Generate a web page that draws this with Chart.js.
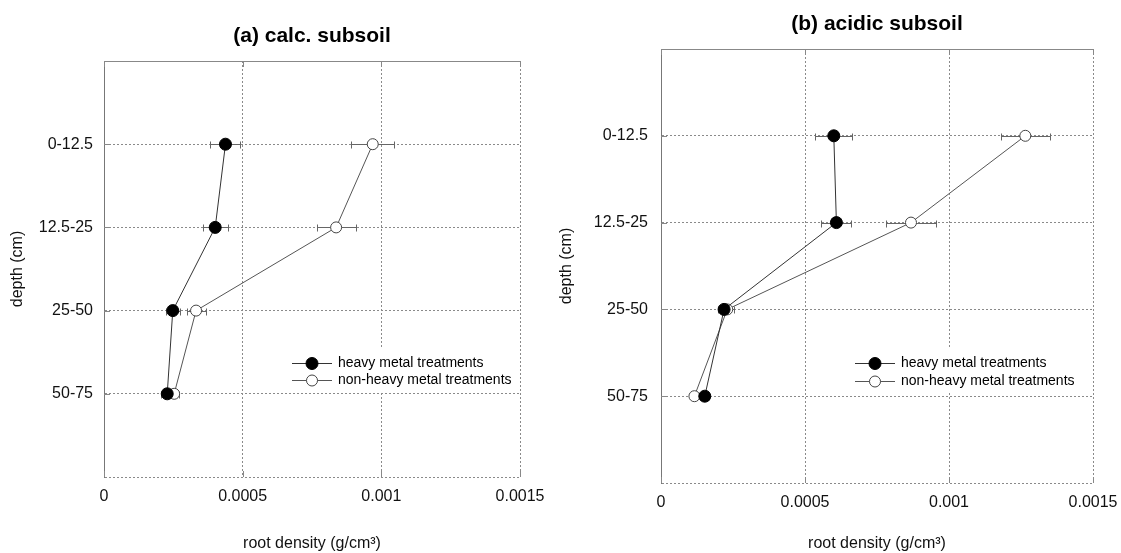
<!DOCTYPE html>
<html>
<head>
<meta charset="utf-8">
<title>Root density by depth</title>
<script src="https://cdn.jsdelivr.net/npm/chart.js@4.4.1/dist/chart.umd.min.js"></script>
<style>
  html, body { margin: 0; padding: 0; background: #fff; }
  #wrap { position: relative; width: 1121px; height: 553px; overflow: hidden; }
  canvas { position: absolute; top: 0; }
  #calcChart { left: 0; }
  #acidChart { left: 548px; }
</style>
</head>
<body>
<div id="wrap">
  <canvas id="calcChart" width="548" height="553"></canvas>
  <canvas id="acidChart" width="573" height="553"></canvas>
</div>
<script>
// depth classes (cm), top to bottom
const depthLabels = ['0-12.5', '12.5-25', '25-50', '50-75'];
const xTickLabels = ['0', '0.0005', '0.001', '0.0015'];
const seriesNames = ['heavy metal treatments', 'non-heavy metal treatments'];

// (a) calcareous subsoil, root density g/cm3 and +/- error
const calcHeavy = [0.000438, 0.000401, 0.000248, 0.000228];
const calcHeavyErr = [0.000054, 0.000045, 0.000026, 0.000022];
const calcNonHeavy = [0.000969, 0.000837, 0.000332, 0.000253];
const calcNonHeavyErr = [0.000078, 0.00007, 0.000034, 0.000017];

// (b) acidic subsoil
const acidHeavy = [0.0006, 0.000609, 0.000219, 0.000152];
const acidHeavyErr = [0.000064, 0.000052, 0.000022, 0.000015];
const acidNonHeavy = [0.001265, 0.000868, 0.00023, 0.000116];
const acidNonHeavyErr = [0.000084, 0.000087, 0.000022, 0.000008];

const FONT = "'Liberation Sans', Arial, sans-serif";

// title centred over the plot area
const panelTitle = {
  id: 'panelTitle',
  afterDraw(chart, args, opts) {
    const { ctx, chartArea } = chart;
    ctx.save();
    ctx.font = `bold ${opts.size}px ${FONT}`;
    ctx.fillStyle = '#000';
    ctx.textAlign = 'center';
    ctx.textBaseline = 'middle';
    ctx.fillText(opts.text, (chartArea.left + chartArea.right) / 2, opts.y);
    ctx.restore();
  }
};

// solid top edge plus short inward tick marks
const frame = {
  id: 'frame',
  beforeDatasetsDraw(chart) {
    const { ctx, chartArea: a, scales: { x, y } } = chart;
    ctx.save();
    ctx.strokeStyle = '#888';
    ctx.lineWidth = 1;
    ctx.beginPath();
    ctx.moveTo(a.left, a.top + 0.5);
    ctx.lineTo(a.right, a.top + 0.5);
    y.ticks.forEach(t => {
      if (t.value <= 0 || t.value >= 5) return;
      const py = Math.round(y.getPixelForValue(t.value)) + 0.5;
      ctx.moveTo(a.left, py);
      ctx.lineTo(a.left + 6, py);
    });
    x.ticks.forEach(t => {
      const px = Math.round(x.getPixelForValue(t.value)) + 0.5;
      ctx.moveTo(px, a.top);
      ctx.lineTo(px, a.top + 6);
      ctx.moveTo(px, a.bottom);
      ctx.lineTo(px, a.bottom - 6);
    });
    ctx.stroke();
    ctx.restore();
  }
};

// horizontal error bars with end caps
const errorBars = {
  id: 'errorBars',
  beforeDatasetsDraw(chart) {
    const { ctx, scales: { x, y } } = chart;
    ctx.save();
    ctx.strokeStyle = '#666';
    ctx.lineWidth = 1;
    chart.data.datasets.forEach(ds => {
      (ds.errors || []).forEach((e, i) => {
        const p = ds.data[i];
        const py = Math.round(y.getPixelForValue(p.y)) + 0.5;
        const x0 = Math.round(x.getPixelForValue(p.x - e)) + 0.5;
        const x1 = Math.round(x.getPixelForValue(p.x + e)) + 0.5;
        ctx.beginPath();
        ctx.moveTo(x0, py);
        ctx.lineTo(x1, py);
        ctx.moveTo(x0, py - 3);
        ctx.lineTo(x0, py + 4);
        ctx.moveTo(x1, py - 3);
        ctx.lineTo(x1, py + 4);
        ctx.stroke();
      });
    });
    ctx.restore();
  }
};

// legend drawn inside the plot area on a white patch
const insetLegend = {
  id: 'insetLegend',
  afterDatasetsDraw(chart, args, opts) {
    const { ctx, chartArea: a } = chart;
    const sets = chart.data.datasets;
    const x0 = a.left + opts.x;
    const y0 = a.top + opts.y;
    const lineLen = 40;
    const textX = x0 + lineLen + 6;
    ctx.save();
    ctx.font = `14px ${FONT}`;
    const widest = Math.max(...sets.map(ds => ctx.measureText(ds.label).width));
    ctx.fillStyle = '#fff';
    ctx.fillRect(x0 - 4, y0 - 15, textX - x0 + widest + 8, opts.gap * (sets.length - 1) + 27);
    sets.forEach((ds, i) => {
      const yy = Math.round(y0 + i * opts.gap) + 0.5;
      ctx.strokeStyle = ds.borderColor;
      ctx.lineWidth = 1;
      ctx.beginPath();
      ctx.moveTo(x0, yy);
      ctx.lineTo(x0 + lineLen, yy);
      ctx.stroke();
      ctx.beginPath();
      ctx.arc(x0 + lineLen / 2, yy, ds.pointRadius, 0, Math.PI * 2);
      ctx.fillStyle = ds.pointBackgroundColor;
      ctx.fill();
      ctx.strokeStyle = ds.pointBorderColor;
      ctx.stroke();
      ctx.fillStyle = '#000';
      ctx.textAlign = 'left';
      ctx.textBaseline = 'middle';
      ctx.fillText(ds.label, textX, yy);
    });
    ctx.restore();
  }
};

const toPoints = vals => vals.map((v, i) => ({ x: v, y: i + 1 }));

function makePanel(id, cfg) {
  new Chart(document.getElementById(id), {
    type: 'scatter',
    data: {
      datasets: [
        {
          label: seriesNames[0],
          data: toPoints(cfg.heavy),
          errors: cfg.heavyErr,
          showLine: true,
          borderColor: '#333',
          borderWidth: 1,
          pointRadius: 6,
          pointBackgroundColor: '#000',
          pointBorderColor: '#000',
          pointBorderWidth: 1
        },
        {
          label: seriesNames[1],
          data: toPoints(cfg.nonHeavy),
          errors: cfg.nonHeavyErr,
          showLine: true,
          borderColor: '#555',
          borderWidth: 1,
          pointRadius: 5.5,
          pointBackgroundColor: '#fff',
          pointBorderColor: '#444',
          pointBorderWidth: 1
        }
      ]
    },
    options: {
      responsive: false,
      animation: false,
      layout: { padding: { top: cfg.top, right: 28, left: 0, bottom: 0 } },
      plugins: {
        legend: { display: false },
        tooltip: { enabled: false },
        panelTitle: { text: cfg.title, y: cfg.titleY, size: 21 },
        insetLegend: { x: cfg.legendX, y: cfg.legendY, gap: cfg.legendGap }
      },
      scales: {
        x: {
          type: 'linear',
          min: 0,
          max: 0.0015,
          afterFit: s => {
            s.height = cfg.xHeight;
            s.paddingLeft = 0;
            s.paddingRight = 0;
          },
          ticks: {
            stepSize: 0.0005,
            padding: 10,
            maxRotation: 0,
            autoSkip: false,
            color: '#111',
            font: { family: FONT, size: 16 },
            callback: (v, i) => xTickLabels[i] ?? ''
          },
          grid: { color: '#8a8a8a', lineWidth: 1, drawTicks: false },
          border: { display: false, dash: [2, 2] },
          title: {
            display: true,
            text: 'root density (g/cm³)',
            color: '#111',
            font: { family: FONT, size: 16 },
            padding: { top: 0, bottom: 0 }
          }
        },
        y: {
          type: 'linear',
          reverse: true,
          min: 0,
          max: 5,
          afterFit: s => { s.width = cfg.yWidth; },
          ticks: {
            stepSize: 1,
            padding: cfg.yPad,
            color: '#111',
            font: { family: FONT, size: 16 },
            callback: v => depthLabels[v - 1] ?? ''
          },
          grid: { color: '#8a8a8a', lineWidth: 1, drawTicks: false },
          border: { display: true, color: '#777', dash: [2, 2] },
          title: {
            display: true,
            text: 'depth (cm)',
            color: '#111',
            font: { family: FONT, size: 16 },
            padding: { top: cfg.yTitlePad }
          }
        }
      }
    },
    plugins: [frame, errorBars, insetLegend, panelTitle]
  });
}

makePanel('calcChart', {
  title: '(a) calc. subsoil',
  heavy: calcHeavy, heavyErr: calcHeavyErr,
  nonHeavy: calcNonHeavy, nonHeavyErr: calcNonHeavyErr,
  top: 61, titleY: 36, xHeight: 76, yWidth: 104, yPad: 11, yTitlePad: 8,
  legendX: 188, legendY: 302, legendGap: 17
});

makePanel('acidChart', {
  title: '(b) acidic subsoil',
  heavy: acidHeavy, heavyErr: acidHeavyErr,
  nonHeavy: acidNonHeavy, nonHeavyErr: acidNonHeavyErr,
  top: 49, titleY: 24, xHeight: 70, yWidth: 113, yPad: 13, yTitlePad: 9,
  legendX: 194, legendY: 314, legendGap: 18
});
</script>
</body>
</html>
